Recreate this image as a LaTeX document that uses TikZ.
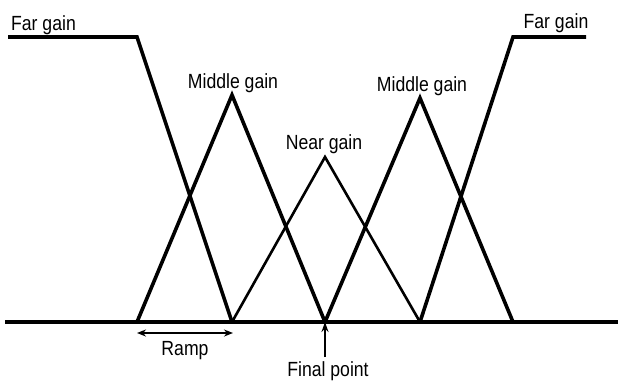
\documentclass[tikz,border=0pt]{standalone}
\usepackage{fontspec}
\setmainfont[FakeStretch=0.86]{Liberation Sans}
\usetikzlibrary{arrows.meta}

\begin{document}
\begin{tikzpicture}[x=1pt,y=-1pt,
    every node/.style={font=\fontsize{20.5}{24}\selectfont,anchor=base,inner sep=0pt},
    gainline/.style={line width=3.6pt,line join=miter},
    nearline/.style={line width=2.6pt,line join=miter},
    pointer/.style={line width=1.6pt}]
    \useasboundingbox (0,0) rectangle (619,381);
    % points on the axis
    \coordinate (b0) at (5,322);
    \coordinate (b1) at (137,322);
    \coordinate (b2) at (232,322);
    \coordinate (b3) at (325,322);
    \coordinate (b4) at (420,322);
    \coordinate (b5) at (513,322);
    \coordinate (b6) at (618,322);
    % corners and peaks
    \coordinate (farL0) at (8,37);
    \coordinate (farL1) at (137,37);
    \coordinate (farR1) at (513,37);
    \coordinate (farR0) at (586,37);
    \coordinate (midL) at (232,95);
    \coordinate (near) at (325,157);
    \coordinate (midR) at (420,98);
    % labels
    \node (farLlbl) at (43.5,30) {Far gain};
    \node (farRlbl) at (556,28) {Far gain};
    \node (midLlbl) at (233,88) {Middle gain};
    \node (nearlbl) at (324,149) {Near gain};
    \node (midRlbl) at (422,91) {Middle gain};
    \node (ramplbl) at (185,355) {Ramp};
    \node (finallbl) at (328,376) {Final point};
    \coordinate (rampA) at (137,333);
    \coordinate (rampB) at (233,333);
    \coordinate (finalA) at (325,357);
    % membership lines
    \draw[gainline] (farL0) -- (farL1) -- (b2);
    \draw[gainline] (b1) -- (midL) -- (b3);
    \draw[nearline] (b2) -- (near) -- (b4);
    \draw[gainline] (b3) -- (midR) -- (b5);
    \draw[gainline] (b4) -- (farR1) -- (farR0);
    \draw[line width=3.2pt] (b0) -- (b6);
    % ramp and final point
    \draw[pointer,{Stealth[length=9pt,width=7pt]}-{Stealth[length=9pt,width=7pt]}] (rampA) -- (rampB);
    \draw[pointer,-{Stealth[length=10pt,width=7pt]}] (finalA) -- (b3);
\end{tikzpicture}
\end{document}
